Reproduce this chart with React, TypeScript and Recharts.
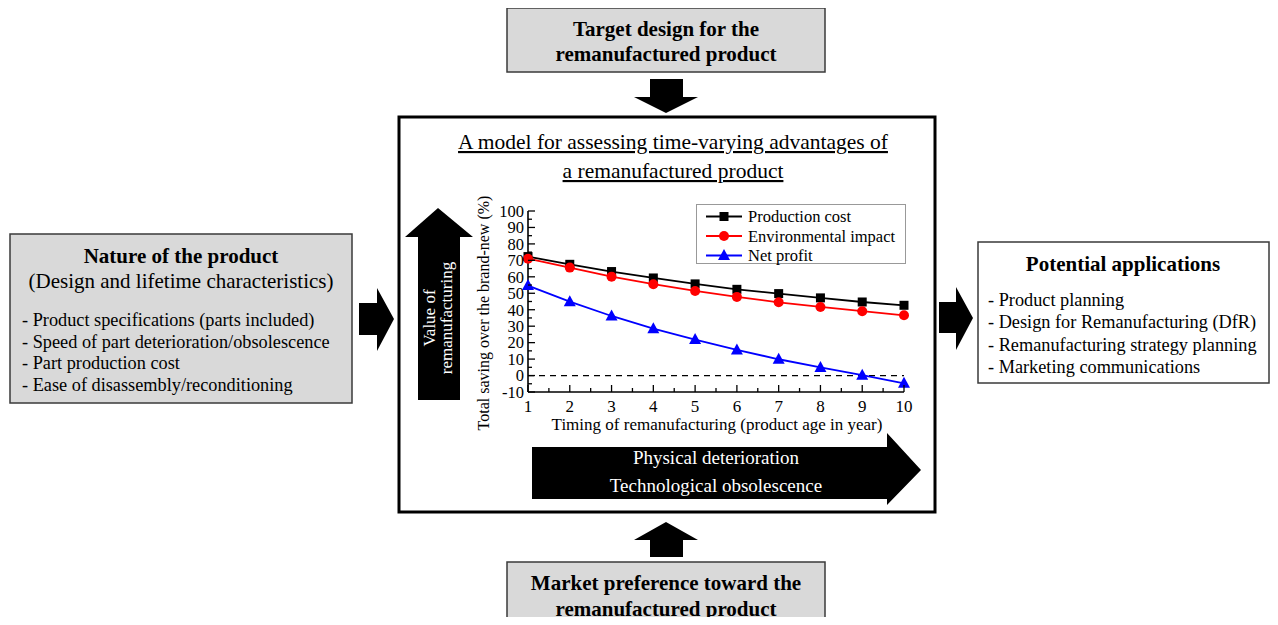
import {
  Legend,
  Line,
  LineChart,
  ReferenceLine,
  XAxis,
  YAxis,
} from "recharts";

const FONT = '"Liberation Serif", "Times New Roman", serif';

const years = [1, 2, 3, 4, 5, 6, 7, 8, 9, 10];
const productionCost = [72.3, 67.6, 63.2, 59.3, 55.7, 52.4, 49.8, 47.2, 44.7, 42.7];
const environmentalImpact = [71, 65.6, 60.1, 55.5, 51.4, 47.8, 44.5, 41.7, 39.1, 36.6];
const netProfit = [54.7, 44.9, 36.2, 28.5, 21.9, 15.6, 9.9, 4.9, 0.2, -4.7];

const xTicks = [1, 1.5, 2, 2.5, 3, 3.5, 4, 4.5, 5, 5.5, 6, 6.5, 7, 7.5, 8, 8.5, 9, 9.5, 10];
const yTicks = [-10, -5, 0, 5, 10, 15, 20, 25, 30, 35, 40, 45, 50, 55, 60, 65, 70, 75, 80, 85, 90, 95, 100];

const productItems = [
  "- Product specifications (parts included)",
  "- Speed of part deterioration/obsolescence",
  "- Part production cost",
  "- Ease of disassembly/reconditioning",
];
const applicationItems = [
  "- Product planning",
  "- Design for Remanufacturing (DfR)",
  "- Remanufacturing strategy planning",
  "- Marketing communications",
];

const data = years.map((year, i) => ({
  year,
  cost: productionCost[i],
  env: environmentalImpact[i],
  profit: netProfit[i],
}));

const series = [
  { key: "cost", name: "Production cost", color: "#000000", marker: "square" },
  { key: "env", name: "Environmental impact", color: "#ff0000", marker: "circle" },
  { key: "profit", name: "Net profit", color: "#0000ff", marker: "triangle" },
];

function Marker({ shape, cx, cy, color }: any) {
  if (shape === "square") {
    return <rect x={cx - 4.5} y={cy - 4.5} width={9} height={9} fill={color} />;
  }
  if (shape === "circle") {
    return <circle cx={cx} cy={cy} r={5} fill={color} />;
  }
  return (
    <polygon
      points={`${cx},${cy - 6.5} ${cx - 6},${cy + 4.5} ${cx + 6},${cy + 4.5}`}
      fill={color}
    />
  );
}

function XTick({ x, y, payload }: any) {
  const major = Number.isInteger(payload.value);
  const ay = y - 6;
  return (
    <g>
      <line x1={x} x2={x} y1={ay} y2={ay - (major ? 7 : 4)} stroke="#000" strokeWidth={1.3} />
      {major && (
        <text x={x} y={y} dy="0.8em" textAnchor="middle" fontFamily={FONT} fontSize={17} fill="#000">
          {payload.value}
        </text>
      )}
    </g>
  );
}

function YTick({ x, y, payload }: any) {
  const major = payload.value % 10 === 0;
  const ax = x + 4;
  return (
    <g>
      <line x1={ax} x2={ax + (major ? 7 : 4)} y1={y} y2={y} stroke="#000" strokeWidth={1.3} />
      {major && (
        <text x={x} y={y} dy="0.35em" textAnchor="end" fontFamily={FONT} fontSize={16.5} fill="#000">
          {payload.value}
        </text>
      )}
    </g>
  );
}

function LegendBox() {
  return (
    <svg width={210} height={66} style={{ overflow: "visible" }}>
      <rect x={0.5} y={0.5} width={209} height={59} fill="#fff" stroke="#999" />
      {series.map((s, i) => {
        const cy = 12.5 + i * 19.5;
        return (
          <g key={s.key}>
            <line x1={10} x2={46} y1={cy} y2={cy} stroke={s.color} strokeWidth={1.8} />
            <Marker shape={s.marker} cx={28} cy={cy} color={s.color} />
            <text x={52} y={cy} dy="0.35em" fontFamily={FONT} fontSize={16.5} fill="#000">
              {s.name}
            </text>
          </g>
        );
      })}
    </svg>
  );
}

function Decor() {
  const box = "#3a3a3a";
  const grey = "#d9d9d9";
  return (
    <svg width={1278} height={625} style={{ position: "absolute", left: 0, top: 0 }} fontFamily={FONT}>
      {/* top box */}
      <rect x={507} y={8} width={318} height={64} fill={grey} stroke={box} strokeWidth={1.5} />
      <text x={666} y={36} textAnchor="middle" fontWeight="bold" fontSize={21}>Target design for the</text>
      <text x={666} y={61} textAnchor="middle" fontWeight="bold" fontSize={21}>remanufactured product</text>
      <polygon points="650,79 683,79 683,97 698,97 666,113 634,97 650,97" fill="#000" />

      {/* centre frame */}
      <rect x={399} y={117} width={536} height={395} fill="none" stroke="#000" strokeWidth={3} />
      <text x={673} y={149} textAnchor="middle" fontSize={21.5} textDecoration="underline">
        A model for assessing time-varying advantages of
      </text>
      <text x={673} y={178} textAnchor="middle" fontSize={21.5} textDecoration="underline">
        a remanufactured product
      </text>

      {/* value arrow */}
      <polygon points="438,208 473,237 460,237 460,400 418,400 418,237 405,237" fill="#000" />
      <text transform="translate(429,318) rotate(-90)" textAnchor="middle" dominantBaseline="central" fontSize={17} fill="#fff">
        Value of
      </text>
      <text transform="translate(446,318) rotate(-90)" textAnchor="middle" dominantBaseline="central" fontSize={17} fill="#fff">
        remanufacturing
      </text>

      {/* axis titles */}
      <text transform="translate(483,313) rotate(-90)" textAnchor="middle" dominantBaseline="central" fontSize={16}>
        Total saving over the brand-new (%)
      </text>
      <text x={717} y={430} textAnchor="middle" fontSize={17}>
        Timing of remanufacturing (product age in year)
      </text>

      {/* time arrow */}
      <polygon points="532,447 887,447 887,433 921,470 887,505 887,499 532,499" fill="#000" />
      <text x={716} y={464} textAnchor="middle" fontSize={19} fill="#fff">Physical deterioration</text>
      <text x={716} y={492} textAnchor="middle" fontSize={19} fill="#fff">Technological obsolescence</text>

      {/* left box */}
      <rect x={10} y={234} width={342} height={169} fill={grey} stroke={box} strokeWidth={1.5} />
      <text x={181} y={263} textAnchor="middle" fontWeight="bold" fontSize={21}>Nature of the product</text>
      <text x={181} y={288} textAnchor="middle" fontSize={21}>(Design and lifetime characteristics)</text>
      {productItems.map((t, i) => (
        <text key={t} x={22} y={326 + i * 21.7} fontSize={18.3}>{t}</text>
      ))}
      <polygon points="359,303 377,303 377,288 394,319 377,351 377,335 359,335" fill="#000" />

      {/* right box */}
      <polygon points="939,302 956,302 956,287 973,318 956,350 956,333 939,333" fill="#000" />
      <rect x={978} y={242} width={291} height={141} fill="#fff" stroke={box} strokeWidth={1.5} />
      <text x={1123} y={271} textAnchor="middle" fontWeight="bold" fontSize={21}>Potential applications</text>
      {applicationItems.map((t, i) => (
        <text key={t} x={988} y={306 + i * 22.3} fontSize={18.3}>{t}</text>
      ))}

      {/* bottom box */}
      <polygon points="666,522 698,540 683,540 683,557 650,557 650,540 634,540" fill="#000" />
      <rect x={507} y={562} width={318} height={80} fill={grey} stroke={box} strokeWidth={1.5} />
      <text x={666} y={590} textAnchor="middle" fontWeight="bold" fontSize={21}>Market preference toward the</text>
      <text x={666} y={616} textAnchor="middle" fontWeight="bold" fontSize={21}>remanufactured product</text>
    </svg>
  );
}

export default function App() {
  return (
    <div
      style={{
        position: "relative",
        width: 1278,
        height: 625,
        margin: -8,
        background: "#fff",
        overflow: "hidden",
        fontFamily: FONT,
      }}
    >
      <Decor />
      <div style={{ position: "absolute", left: 440, top: 195 }}>
        <LineChart width={480} height={250} data={data} margin={{ top: 16, right: 16, left: 38, bottom: 0 }}>
          <XAxis
            dataKey="year"
            type="number"
            domain={[1, 10]}
            ticks={xTicks}
            interval={0}
            height={53}
            tickSize={0}
            tickMargin={6}
            tickLine={false}
            tick={<XTick />}
            axisLine={{ stroke: "#000", strokeWidth: 1.6 }}
          />
          <YAxis
            type="number"
            domain={[-10, 100]}
            ticks={yTicks}
            interval={0}
            width={50}
            tickSize={0}
            tickMargin={4}
            tickLine={false}
            tick={<YTick />}
            axisLine={{ stroke: "#000", strokeWidth: 1.6 }}
          />
          <ReferenceLine y={0} stroke="#000" strokeWidth={1.2} strokeDasharray="6 5" />
          <Legend
            layout="vertical"
            align="center"
            verticalAlign="middle"
            wrapperStyle={{ left: 256, top: 9, width: 210, height: 66 }}
            content={() => <LegendBox />}
          />
          {series.map((s) => (
            <Line
              key={s.key}
              dataKey={s.key}
              name={s.name}
              stroke={s.color}
              strokeWidth={1.8}
              isAnimationActive={false}
              dot={(p: any) => (
                <Marker key={`${s.key}-${p.index}`} shape={s.marker} cx={p.cx} cy={p.cy} color={s.color} />
              )}
              activeDot={false}
            />
          ))}
        </LineChart>
      </div>
    </div>
  );
}
